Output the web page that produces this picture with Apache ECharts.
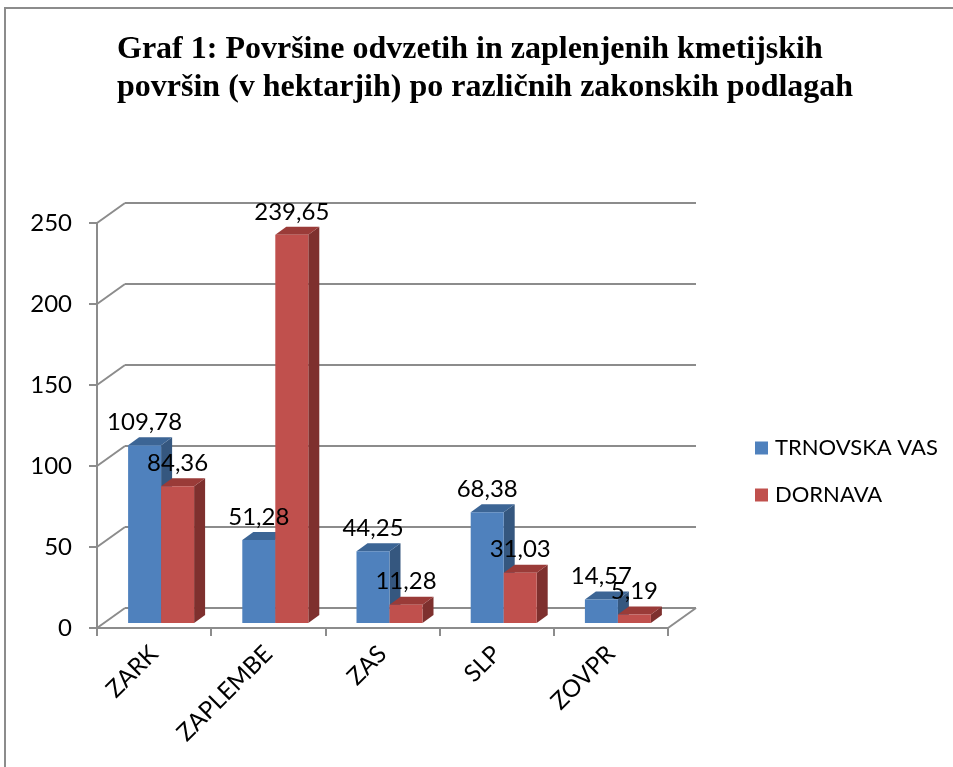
<!DOCTYPE html>
<html>
<head>
    <meta charset="utf-8">
    <title>Graf 1</title>
    <script src="https://cdn.jsdelivr.net/npm/echarts@6/dist/echarts.min.js"></script>
    <style>
        html, body { margin: 0; padding: 0; background: #fff; }
    </style>
</head>
<body>
<div id="chart" style="width: 953px;height:767px;"></div>

<script type="text/javascript">

    // podatki
    var categories = ['ZARK', 'ZAPLEMBE', 'ZAS', 'SLP', 'ZOVPR'];
    var trnovskaVas = [109.78, 51.28, 44.25, 68.38, 14.57];
    var dornava = [84.36, 239.65, 11.28, 31.03, 5.19];
    var yTicks = [0, 50, 100, 150, 200, 250];

    // "globina" psevdo 3D
    var DX = 28, DY = -20;
    var BAR_W = 33;
    var BAR_DX = 11, BAR_DY = -8;
    var gridColor = '#8c8c8c';
    var font = 'Lato, "Open Sans", sans-serif';

    function fmt(v) {
        return String(v).replace('.', ',');
    }

    var myChart = echarts.init(document.getElementById('chart'));

    function wallItem(params, api) {
        var cs = params.coordSys;
        var v = api.value(0);
        var y = api.coord([0, v])[1];
        var x0 = cs.x, x1 = cs.x + cs.width;
        var st = { stroke: gridColor, lineWidth: 2 };
        var children = [
            { type: 'line', shape: { x1: x0 + DX, y1: y + DY, x2: x1 + DX, y2: y + DY }, style: st },
            { type: 'line', shape: { x1: x0, y1: y, x2: x0 + DX, y2: y + DY }, style: st }
        ];
        if (v === 0) {
            children.push({ type: 'line', shape: { x1: x1, y1: y, x2: x1 + DX, y2: y + DY }, style: st });
        }
        return { type: 'group', children: children };
    }

    // polozaj sprednje ploskve stolpca
    function barBox(api, side, i, v) {
        var base = api.coord([i, 0]);
        var tip = api.coord([i, v]);
        var xl = base[0] + (side === 0 ? -BAR_W : 0) + DX * 0.25;
        return { xl: xl, xr: xl + BAR_W, yb: base[1] + DY * 0.25, yt: tip[1] + DY * 0.25, top: tip[1] };
    }

    function barRender(side, front, top, sideCol) {
        return function (params, api) {
            var b = barBox(api, side, api.value(0), api.value(1));
            return {
                type: 'group',
                children: [
                    { type: 'polygon', shape: { points: [[b.xr, b.yb], [b.xr + BAR_DX, b.yb + BAR_DY], [b.xr + BAR_DX, b.yt + BAR_DY], [b.xr, b.yt]] }, style: { fill: sideCol } },
                    { type: 'polygon', shape: { points: [[b.xl, b.yt], [b.xr, b.yt], [b.xr + BAR_DX, b.yt + BAR_DY], [b.xl + BAR_DX, b.yt + BAR_DY]] }, style: { fill: top } },
                    { type: 'rect', shape: { x: b.xl, y: b.yt, width: BAR_W, height: b.yb - b.yt }, style: { fill: front } }
                ]
            };
        };
    }

    function labelRender(side) {
        return function (params, api) {
            var v = api.value(1);
            var b = barBox(api, side, api.value(0), v);
            return { type: 'text', style: { text: fmt(v), x: (b.xl + b.xr) / 2, y: b.top - 16, align: 'center', verticalAlign: 'bottom', fill: '#000', font: '24px ' + font } };
        };
    }

    myChart.setOption({
        animation: false,
        title: {
            text: 'Graf 1: Površine odvzetih in zaplenjenih kmetijskih\npovršin (v hektarjih) po različnih zakonskih podlagah',
            left: 117,
            top: 31,
            padding: 0,
            textStyle: { fontFamily: '"Liberation Serif", "Times New Roman", serif', fontWeight: 'bold', fontSize: 32, lineHeight: 38, color: '#000' }
        },
        graphic: [
            { type: 'rect', shape: { x: 5, y: 8, width: 960, height: 780 }, style: { fill: 'none', stroke: '#8c8c8c', lineWidth: 2 }, silent: true }
        ],
        legend: {
            orient: 'vertical',
            left: 750,
            top: 432,
            itemWidth: 13,
            itemHeight: 13,
            itemGap: 25,
            icon: 'rect',
            textStyle: { fontFamily: font, fontSize: 22, color: '#000', padding: [0, 0, 0, 2] },
            data: ['TRNOVSKA VAS', 'DORNAVA']
        },
        grid: { left: 97, right: 285, top: 223, bottom: 139, containLabel: false },
        xAxis: {
            type: 'category',
            data: categories,
            axisLine: { lineStyle: { color: gridColor, width: 2 } },
            axisTick: { show: true, length: 8, lineStyle: { color: gridColor, width: 2 } },
            axisLabel: { rotate: 45, margin: 22, color: '#000', fontFamily: font, fontSize: 24 }
        },
        yAxis: {
            type: 'value',
            min: 0,
            max: 250,
            interval: 50,
            axisLine: { show: true, lineStyle: { color: gridColor, width: 2 } },
            axisTick: { show: true, length: 8, lineStyle: { color: gridColor, width: 2 } },
            splitLine: { show: false },
            axisLabel: { margin: 25, color: '#000', fontFamily: font, fontSize: 24 }
        },
        series: [
            {
                name: 'walls',
                type: 'custom',
                silent: true,
                z: 1,
                renderItem: wallItem,
                data: yTicks.map(function (t) { return [t]; })
            },
            {
                name: 'TRNOVSKA VAS',
                type: 'custom',
                z: 2,
                itemStyle: { color: '#4F81BD' },
                renderItem: barRender(0, '#4F81BD', '#3C6595', '#35577F'),
                data: trnovskaVas.map(function (v, i) { return [i, v]; })
            },
            {
                name: 'DORNAVA',
                type: 'custom',
                z: 3,
                itemStyle: { color: '#C0504D' },
                renderItem: barRender(1, '#C0504D', '#9A3B38', '#7E302E'),
                data: dornava.map(function (v, i) { return [i, v]; })
            },
            {
                name: 'TRNOVSKA VAS',
                type: 'custom',
                z: 5,
                silent: true,
                renderItem: labelRender(0),
                data: trnovskaVas.map(function (v, i) { return [i, v]; })
            },
            {
                name: 'DORNAVA',
                type: 'custom',
                z: 5,
                silent: true,
                renderItem: labelRender(1),
                data: dornava.map(function (v, i) { return [i, v]; })
            }
        ]
    });

</script>
</body>
</html>
